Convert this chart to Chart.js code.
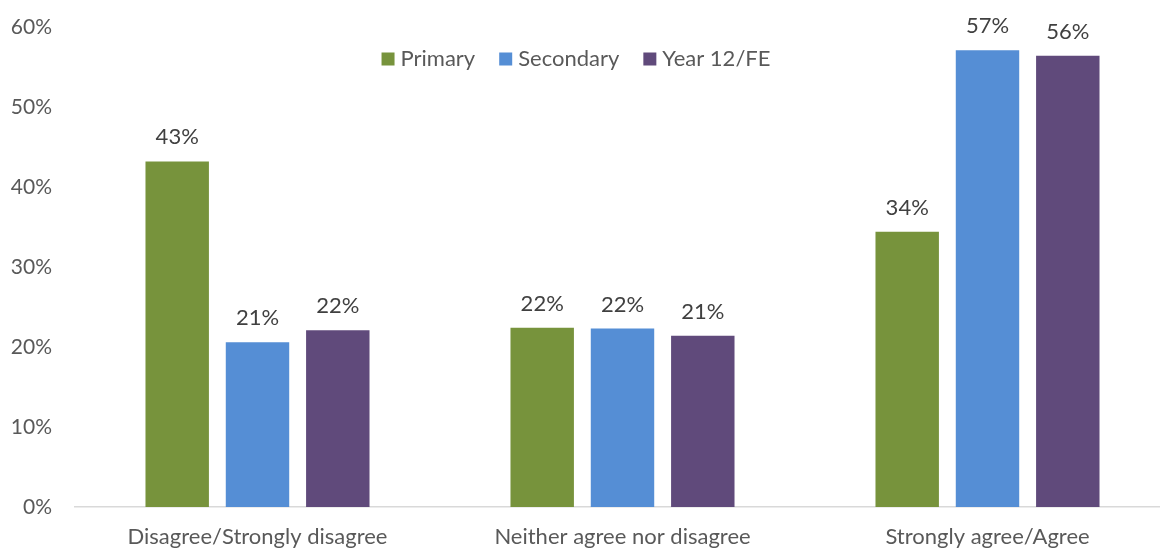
<!DOCTYPE html>
<html>
<head>
<meta charset="utf-8">
<script src="https://cdn.jsdelivr.net/npm/chart.js@4"></script>
<style>
html,body{margin:0;padding:0;background:#fff;overflow:hidden;}
#wrap{width:1170px;height:549px;position:relative;}
</style>
</head>
<body>
<div id="wrap"><canvas id="c" width="1170" height="549"></canvas></div>
<script>
const categories=['Disagree/Strongly disagree','Neither agree nor disagree','Strongly agree/Agree'];
const primary=[43.2,22.4,34.4];
const secondary=[20.6,22.3,57.1];
const year12=[22.1,21.4,56.4];
const yTicks=[0,10,20,30,40,50,60];

const FONT='Lato';

// value labels above each bar
const barLabels={
  id:'barLabels',
  afterDatasetsDraw(chart){
    const ctx=chart.ctx;
    ctx.save();
    ctx.font='22px '+FONT;
    ctx.fillStyle='#404040';
    ctx.textAlign='center';
    ctx.textBaseline='alphabetic';
    chart.data.datasets.forEach((ds,i)=>{
      chart.getDatasetMeta(i).data.forEach((bar,j)=>{
        ctx.fillText(Math.round(ds.data[j])+'%',bar.x,bar.y-17);
      });
    });
    ctx.restore();
  }
};

// legend drawn inside the plot area
const topLegend={
  id:'topLegend',
  afterDraw(chart){
    const ctx=chart.ctx;
    ctx.save();
    ctx.font='22px '+FONT;
    ctx.textBaseline='middle';
    const box=13,gap=6,itemGap=24,y=59,cx=576;
    const items=chart.data.datasets.map(d=>({t:d.label,c:d.backgroundColor,w:ctx.measureText(d.label).width}));
    let total=items.reduce((s,it)=>s+box+gap+it.w,0)+itemGap*(items.length-1);
    let x=cx-total/2;
    items.forEach(it=>{
      ctx.fillStyle=it.c;
      ctx.fillRect(x,y-box/2,box,box);
      x+=box+gap;
      ctx.fillStyle='#595959';
      ctx.textAlign='left';
      ctx.fillText(it.t,x,y);
      x+=it.w+itemGap;
    });
    ctx.restore();
  }
};

new Chart(document.getElementById('c'),{
  type:'bar',
  data:{
    labels:categories,
    datasets:[
      {label:'Primary',data:primary,backgroundColor:'#77933C'},
      {label:'Secondary',data:secondary,backgroundColor:'#558ED5'},
      {label:'Year 12/FE',data:year12,backgroundColor:'#604A7B'}
    ]
  },
  options:{
    responsive:false,
    animation:false,
    categoryPercentage:0.66,
    barPercentage:0.79,
    layout:{padding:{top:27,right:0,bottom:0,left:0}},
    plugins:{legend:{display:false},tooltip:{enabled:false}},
    scales:{
      x:{
        afterFit(s){s.height=42;},
        grid:{display:false,drawTicks:false},
        border:{color:'#d9d9d9',width:1.5},
        ticks:{color:'#595959',font:{family:FONT,size:22},padding:17}
      },
      y:{
        min:0,max:60,
        afterFit(s){s.width=75;s.paddingTop=0;s.paddingBottom=0;},
        afterBuildTicks(s){s.ticks=yTicks.map(v=>({value:v}));},
        grid:{display:false,drawTicks:false},
        border:{display:false},
        ticks:{color:'#595959',font:{family:FONT,size:21},padding:23,callback:v=>v+'%'}
      }
    }
  },
  plugins:[barLabels,topLegend]
});
</script>
</body>
</html>
